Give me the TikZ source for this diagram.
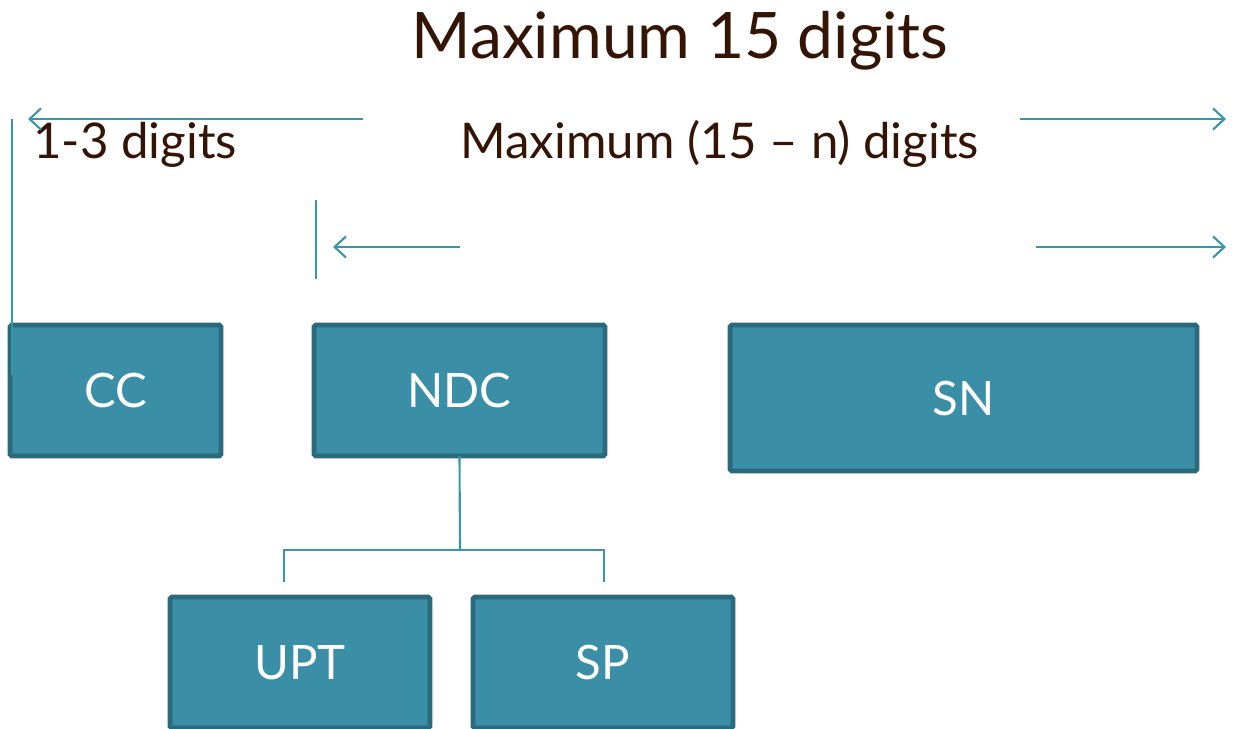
\documentclass[tikz,border=0pt]{standalone}
\usepackage{fontspec}
\setmainfont{Lato}
\usetikzlibrary{arrows.meta}
\definecolor{boxfill}{HTML}{3A8FA7}
\definecolor{boxline}{HTML}{2B6A7B}
\definecolor{lnc}{HTML}{3A95AA}
\definecolor{txt}{HTML}{341505}
\tikzset{
  unitbox/.style={draw=boxline, line width=2.8pt, fill=boxfill, rounded corners=1pt,
    inner sep=0pt, outer sep=0pt, text=white, font=\fontsize{27}{32}\selectfont},
  dimline/.style={draw=lnc, line width=1.2pt},
  dimarrow/.style={dimline, -{Straight Barb[length=6.5pt,width=12pt,line width=1.2pt]}},
  lbl/.style={text=txt, inner sep=0pt, font=\fontsize{28}{34}\selectfont},
}
\begin{document}
\begin{tikzpicture}[x=0.02cm,y=-0.02cm]
\useasboundingbox (0,0) rectangle (1247,728);
% title and labels
\node[lbl, font=\fontsize{36.5}{44}\selectfont, anchor=base] (title) at (680,58) {Maximum 15 digits};
\node[lbl, anchor=base west] (l13) at (33,158) {1-3 digits};
\node[lbl, anchor=base west] (lmax) at (460,158) {Maximum (15 -- n) digits};
% boxes
\node[unitbox, minimum width=4.22cm, minimum height=2.62cm] (cc) at (115.5,390.5) {CC};
\node[unitbox, minimum width=5.82cm, minimum height=2.62cm] (ndc) at (459.5,390.5) {NDC};
\node[unitbox, minimum width=9.34cm, minimum height=2.92cm] (sn) at (963.5,398) {SN};
\node[unitbox, minimum width=5.2cm, minimum height=2.62cm] (upt) at (300,662.5) {UPT};
\node[unitbox, minimum width=5.2cm, minimum height=2.62cm] (sp) at (603,662.5) {SP};
% dimension lines
\coordinate (a1s) at (363,119); \coordinate (a1e) at (28,119);
\coordinate (a2s) at (1020,119); \coordinate (a2e) at (1226,119);
\coordinate (v1t) at (12,119); \coordinate (v1b) at (12,375);
\coordinate (v2t) at (316,200); \coordinate (v2b) at (316,279);
\coordinate (a3s) at (460,247); \coordinate (a3e) at (333,247);
\coordinate (a4s) at (1036,247); \coordinate (a4e) at (1226,247);
\draw[dimarrow] (a1s) -- (a1e);
\draw[dimarrow] (a2s) -- (a2e);
\draw[dimline] (v1t) -- (v1b);
\draw[dimline] (v2t) -- (v2b);
\draw[dimarrow] (a3s) -- (a3e);
\draw[dimarrow] (a4s) -- (a4e);
% tree connector
\coordinate (jn) at (460,550);
\coordinate (ul) at (284,582); \coordinate (sr) at (604,582);
\draw[dimline] (ndc.south) -- (jn);
\draw[dimline] (ul) -- (ul |- jn) -- (sr |- jn) -- (sr);
\end{tikzpicture}
\end{document}
